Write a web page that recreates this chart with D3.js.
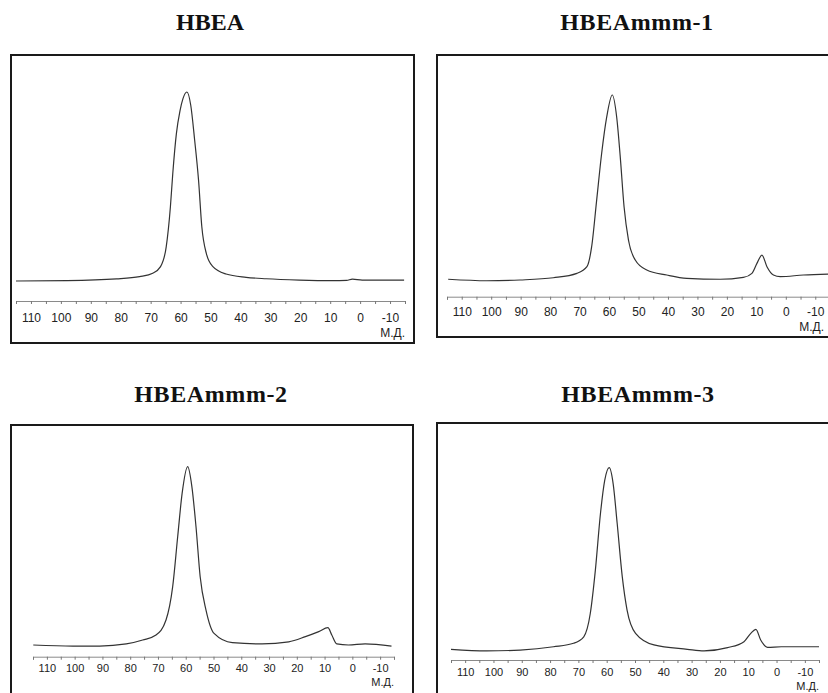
<!DOCTYPE html>
<html>
<head>
<meta charset="utf-8">
<script src="https://cdn.jsdelivr.net/npm/d3@7"></script>
<style>
  html, body { margin: 0; padding: 0; background: #fff; }
  svg { display: block; }
</style>
</head>
<body>
<svg id="chart" width="828" height="693"></svg>
<script>
// ---------- DATA ----------
const titles = ["HBEA", "HBEAmmm-1", "HBEAmmm-2", "HBEAmmm-3"];
const tickValues = [115,110,105,100,95,90,85,80,75,70,65,60,55,50,45,40,35,30,25,20,15,10,5,0,-5,-10,-15];
const labelledTicks = [110,100,90,80,70,60,50,40,30,20,10,0,-10];
const unitLabel = "М.Д.";

// chemical shift (ppm) and relative intensity (a.u., main peak = 100)
const hbeaShift     = [115, 98, 81.4, 73.7, 69.3, 66.7, 64.8, 63.4, 62.6, 61.4, 60.2, 59.2, 57.9, 56.6, 55.3, 54, 52.9, 51.4, 49.2, 44.8, 38.1, 31.4, 20.3, 9.3, 4.5, 2.6, -0.7, -14.7];
const hbeaIntensity = [0, 0.2, 1.1, 2.3, 4.1, 7.6, 18.1, 39.3, 57, 78, 90, 96.5, 100, 93, 74.6, 53.4, 28.7, 14.6, 7.6, 3.7, 1.96, 1.2, 0.5, 0.2, 0.3, 1.0, 0.5, 0.5];

const mmm1Shift     = [114.6, 101.5, 90.2, 78.9, 70.9, 67.5, 65.9, 64.2, 62.5, 60.8, 58.9, 57.4, 56.2, 54.9, 53.4, 51.1, 47.2, 40.4, 33.6, 22.3, 14.4, 11.5, 9.8, 8.1, 6.4, 4.2, 1.9, -6, -15];
const mmm1Intensity = [0.4, -0.4, 0, 1.2, 3.6, 7.2, 18, 43.2, 68.5, 88, 100, 88, 66.7, 39.6, 21.6, 10.8, 5.4, 2.7, 0.9, 0.4, 1.4, 3.6, 9, 13.5, 7.2, 2.7, 1.8, 2.7, 3.2];

const mmm2Shift     = [114.9, 100.6, 91, 81.4, 75.5, 70.7, 67.1, 64.7, 62.9, 61.3, 59.3, 57.8, 56.3, 54.8, 52.7, 49.8, 43.2, 32.5, 22.9, 16.9, 12.1, 8.8, 7.4, 5.6, 1.4, -4.6, -14.1];
const mmm2Intensity = [0, -0.6, -0.6, 0.6, 2.8, 5.6, 14, 32.7, 60.7, 85, 100, 89, 66.3, 38.3, 19.6, 6.5, 1.3, 0.6, 1.8, 4.7, 7.5, 9.7, 5.6, 0.6, 0, 0.6, -0.6];

const mmm3Shift     = [115, 102.4, 90.6, 78.8, 71.7, 68.1, 65.8, 64, 62.2, 60.7, 59.1, 57.7, 56.3, 54.5, 52.8, 49.8, 43.3, 31.5, 25.6, 17.3, 11.5, 9.1, 7.3, 5.6, 3.2, -1.7, -15];
const mmm3Intensity = [0, -0.9, -0.4, 1.4, 3.3, 6.9, 19.7, 43.6, 74.8, 93, 100, 91, 69.4, 40, 21.6, 8.8, 2.4, 0, -0.9, 0.9, 4.2, 8.8, 11, 5.1, 1.1, 1.4, 1.4];

const seriesShift = [hbeaShift, mmm1Shift, mmm2Shift, mmm3Shift];
const seriesIntensity = [hbeaIntensity, mmm1Intensity, mmm2Intensity, mmm3Intensity];

// ---------- LAYOUT ----------
const panels = [
  { frame: [11, 55, 403, 288],  x: [16, 405],  y: [281, 92],      axisY: 301,   pad: 9, unitDy: 36,   fs: 12, title: [210, 30] },
  { frame: [437, 55, 400, 282], x: [447, 830], y: [280, 95],      axisY: 296.7, pad: 8, unitDy: 34,   fs: 12, title: [637, 30] },
  { frame: [11, 425, 402, 300], x: [33, 394],  y: [645, 466.7],   axisY: 656.7, pad: 5, unitDy: 29.5, fs: 11, title: [211, 402] },
  { frame: [437, 423, 400, 300],x: [451, 819], y: [649.3, 467.7], axisY: 660,   pad: 5, unitDy: 29.5, fs: 11, title: [638, 402] }
];

const svg = d3.select("#chart");

panels.forEach((p, i) => {
  const g = svg.append("g");

  // title
  g.append("text")
    .attr("x", p.title[0]).attr("y", p.title[1])
    .attr("text-anchor", "middle")
    .style("font-family", "'Liberation Serif', 'Times New Roman', serif")
    .style("font-weight", "bold")
    .style("font-size", "24px")
    .style("letter-spacing", i === 0 ? "0px" : "0.6px")
    .attr("fill", "#111")
    .text(titles[i]);

  // frame
  g.append("rect")
    .attr("x", p.frame[0]).attr("y", p.frame[1])
    .attr("width", p.frame[2]).attr("height", p.frame[3])
    .attr("fill", "none").attr("stroke", "#1a1a1a").attr("stroke-width", 2);

  const x = d3.scaleLinear().domain([115, -15]).range(p.x);
  const y = d3.scaleLinear().domain([0, 100]).range(p.y);

  // axis
  const axis = d3.axisBottom(x)
    .tickValues(tickValues)
    .tickSize(3)
    .tickPadding(p.pad)
    .tickFormat(d => labelledTicks.includes(d) ? String(d) : "");
  const ag = g.append("g").attr("transform", `translate(0,${p.axisY})`).call(axis);
  ag.select(".domain").attr("stroke", "#8a8a8a").attr("stroke-width", 1);
  ag.selectAll(".tick line").attr("stroke", "#777");
  ag.selectAll(".tick text")
    .style("font-family", "'Liberation Sans', Arial, sans-serif")
    .style("font-size", p.fs + "px")
    .attr("fill", "#222");

  g.append("text")
    .attr("x", Math.min(p.x[1], 824)).attr("y", p.axisY + p.unitDy)
    .attr("text-anchor", "end")
    .style("font-family", "'Liberation Sans', Arial, sans-serif")
    .style("font-size", p.fs + "px")
    .attr("fill", "#222")
    .text(unitLabel);

  // spectrum
  const pts = seriesShift[i].map((s, k) => [s, seriesIntensity[i][k]]);
  const line = d3.line()
    .x(d => x(d[0]))
    .y(d => y(d[1]))
    .curve(d3.curveMonotoneX);
  g.append("path")
    .datum(pts)
    .attr("d", line)
    .attr("fill", "none")
    .attr("stroke", "#333")
    .attr("stroke-width", 1.2);
});
</script>
</body>
</html>
